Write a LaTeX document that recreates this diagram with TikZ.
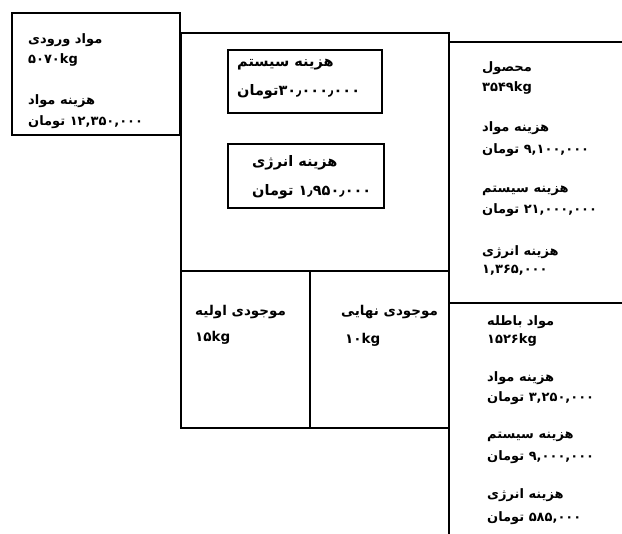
\documentclass[tikz,border=0pt]{standalone}
\usepackage{fontspec}
\newfontfamily\arabicfont[Script=Arabic]{DejaVu Sans}
\TeXXeTstate=1
\newcommand{\fatext}[1]{\arabicfont\bfseries\beginR #1\endR}
\tikzset{
  faline/.style={anchor=west, inner sep=0pt, font=\fontsize{13}{15}\selectfont},
  bigline/.style={faline, font=\fontsize{14.5}{16}\selectfont},
  stockline/.style={faline, font=\fontsize{13.5}{15}\selectfont},
  wall/.style={line width=2.2pt, line cap=rect},
}
\begin{document}
\begin{tikzpicture}[x=1pt,y=-1pt]
\useasboundingbox (0,0) rectangle (622,534);
% Input box
\draw[wall] (12,13) coordinate (A) rectangle (180,135) coordinate (B);
% Central frame
\draw[wall] (180,33) -- (449,33);
\draw[wall] (181,33) -- (181,428) -- (449,428);
\draw[wall] (449,33) -- (449,534);
\draw[wall] (181,271) -- (449,271);
\draw[wall] (310,271) -- (310,428);
% Right column
\draw[wall] (449,42) -- (622,42);
\draw[wall] (449,303) -- (622,303);
% Inner boxes
\draw[wall] (228,50) rectangle (382,113);
\draw[wall] (228,144) rectangle (384,208);
% Input texts
\node[faline] (in1) at (28,40) {\fatext{مواد ورودی}};
\node[faline] (in2) at (28,60) {\fatext{۵۰۷۰kg}};
\node[faline] (in3) at (28,101) {\fatext{هزینه مواد}};
\node[faline] (in4) at (28,122) {\fatext{۱۲,۳۵۰,۰۰۰ تومان}};
% Inner box texts
\node[bigline] (sys1) at (237,65) {\fatext{هزینه سیستم}};
\node[bigline] (sys2) at (237,92) {\fatext{۳۰٫۰۰۰٫۰۰۰تومان}};
\node[bigline] (en1) at (252,163) {\fatext{هزینه انرژی}};
\node[bigline] (en2) at (252,192) {\fatext{۱٫۹۵۰٫۰۰۰ تومان}};
% Stock texts
\node[stockline] (st1) at (195,312) {\fatext{موجودی اولیه}};
\node[stockline] (st2) at (195,338) {\fatext{۱۵kg}};
\node[stockline] (st3) at (341,312) {\fatext{موجودی نهایی}};
\node[stockline] (st4) at (345,340) {\fatext{۱۰kg}};
% Product texts
\node[faline] (pr1) at (482,68) {\fatext{محصول}};
\node[faline] (pr2) at (482,88) {\fatext{۳۵۴۹kg}};
\node[faline] (pr3) at (482,128) {\fatext{هزینه مواد}};
\node[faline] (pr4) at (482,150) {\fatext{۹,۱۰۰,۰۰۰ تومان}};
\node[faline] (pr5) at (482,191) {\fatext{هزینه سیستم}};
\node[faline] (pr6) at (482,210) {\fatext{۲۱,۰۰۰,۰۰۰ تومان}};
\node[faline] (pr7) at (482,252) {\fatext{هزینه انرژی}};
\node[faline] (pr8) at (482,270) {\fatext{۱,۳۶۵,۰۰۰}};
% Waste texts
\node[faline] (wa1) at (487,322) {\fatext{مواد باطله}};
\node[faline] (wa2) at (487,340) {\fatext{۱۵۲۶kg}};
\node[faline] (wa3) at (487,378) {\fatext{هزینه مواد}};
\node[faline] (wa4) at (487,398) {\fatext{۳,۲۵۰,۰۰۰ تومان}};
\node[faline] (wa5) at (487,437) {\fatext{هزینه سیستم}};
\node[faline] (wa6) at (487,457) {\fatext{۹,۰۰۰,۰۰۰ تومان}};
\node[faline] (wa7) at (487,495) {\fatext{هزینه انرژی}};
\node[faline] (wa8) at (487,518) {\fatext{۵۸۵,۰۰۰ تومان}};
\end{tikzpicture}
\end{document}
